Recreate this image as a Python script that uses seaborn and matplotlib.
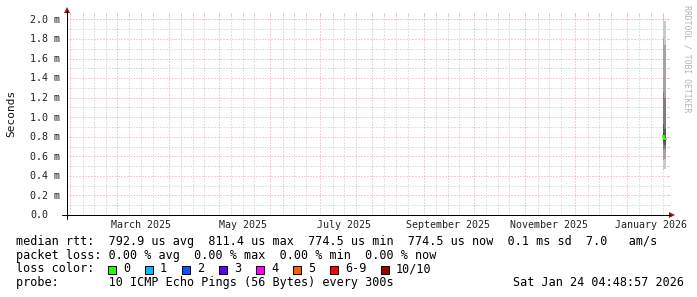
import matplotlib
matplotlib.use("Agg")
import matplotlib.pyplot as plt
import matplotlib.dates as mdates
from matplotlib.ticker import FixedLocator
from matplotlib.transforms import blended_transform_factory, offset_copy
from matplotlib.lines import Line2D
from matplotlib.patches import Polygon, Rectangle
import pandas as pd
import seaborn as sns

# ---------------- data ----------------
sample_times = ["2026-01-23 03:00", "2026-01-24 02:00"]
sample_end = "2026-01-25 02:00"
# sorted ping round-trip times of each sample (ms)
pings_sample1 = [0.46, 0.56, 0.66, 0.74, 0.78, 0.84, 0.93, 1.26, 1.81, 2.045]
pings_sample2 = [0.47, 0.57, 0.67, 0.72, 0.76, 0.80, 0.88, 1.20, 1.74, 1.98]
median_rtt = [0.8114, 0.7745]

y_tick_values = [0.0, 0.2, 0.4, 0.6, 0.8, 1.0, 1.2, 1.4, 1.6, 1.8, 2.0]
y_tick_labels = ["0.0", "0.2 m", "0.4 m", "0.6 m", "0.8 m", "1.0 m",
                 "1.2 m", "1.4 m", "1.6 m", "1.8 m", "2.0 m"]
y_minor_values = [0.1, 0.3, 0.5, 0.7, 0.9, 1.1, 1.3, 1.5, 1.7, 1.9]
month_label_dates = ["2025-03-16", "2025-05-16", "2025-07-16",
                     "2025-09-16", "2025-11-16", "2026-01-16"]
month_labels = ["March 2025", "May 2025", "July 2025",
                "September 2025", "November 2025", "January 2026"]
x_start, x_end = "2025-01-30 15:00", "2026-01-25 15:00"
minor_days = [9, 16, 23]

loss_labels = ["0", "1", "2", "3", "4", "5", "6-9", "10/10"]
loss_colors = ["#26ff00", "#00b8ff", "#0059ff", "#5e00ff",
               "#ff00fe", "#ff5e00", "#ff0000", "#a10000"]

line_rtt = ("median rtt:  792.9 us avg  811.4 us max  774.5 us min  "
            "774.5 us now  0.1 ms sd  7.0   am/s")
line_loss = "packet loss: 0.00 % avg  0.00 % max  0.00 % min  0.00 % now"
line_probe = "probe:       10 ICMP Echo Pings (56 Bytes) every 300s"
stamp = "Sat Jan 24 04:48:57 2026"

# ---------------- style ----------------
sns.set_theme(style="white")
plt.rcParams["font.family"] = ["DejaVu Sans Mono", "DejaVu Sans"]

W, H = 697, 297
fig = plt.figure(figsize=(W / 100, H / 100), dpi=100)
fig.patch.set_facecolor("white")


def fx(x):
    return x / W


def fy(y):
    return 1 - y / H


X0, X1, YB, YT = 67, 667, 215, 15
ax = fig.add_axes([fx(X0), fy(YB), (X1 - X0) / W, (YB - YT) / H])
ax.set_facecolor("white")

GRID = "#c4c4c4"
MGRID = "#eea0a0"
px = 0.72  # one pixel in points

times = pd.to_datetime(sample_times + [sample_end])

# smoke: pairs of pings, outer pairs lighter
half = len(pings_sample1) // 2
for i in range(half):
    lo = [pings_sample1[i], pings_sample2[i]]
    hi = [pings_sample1[-1 - i], pings_sample2[-1 - i]]
    g = int(190 / half * (half - (i + 1))) + 50
    col = "#%02x%02x%02x" % (g, g, g)
    ax.fill_between(times, lo + [lo[-1]], hi + [hi[-1]], step="post",
                    color=col, linewidth=0, zorder=2, antialiased=False)

med_df = pd.DataFrame({"t": times, "median": median_rtt + [median_rtt[-1]]})
sns.lineplot(data=med_df, x="t", y="median", drawstyle="steps-post",
             color=loss_colors[0], linewidth=1.6, ax=ax, legend=False, zorder=3)

ax.set_xlim(pd.Timestamp(x_start), pd.Timestamp(x_end))
ax.set_ylim(0, 2.045)
ax.set_xlabel("")
ax.set_ylabel("")

# grid: month starts (major) and days within each month (minor)
month_starts = pd.date_range(x_start, x_end, freq="MS")
month_all = pd.date_range("2025-01-01", x_end, freq="MS")
lo_t, hi_t = pd.Timestamp(x_start), pd.Timestamp(x_end)
minor_dates = [m + pd.Timedelta(days=d - 1) for m in month_all for d in minor_days]
minor_dates = [d for d in minor_dates if lo_t <= d <= hi_t]
ax.xaxis.set_major_locator(FixedLocator(mdates.date2num(month_starts)))
ax.xaxis.set_minor_locator(FixedLocator(mdates.date2num(minor_dates)))
ax.set_yticks(y_tick_values)
ax.set_yticks(y_minor_values, minor=True)
ax.grid(which="minor", color=GRID, linestyle=(0, (1, 2)), linewidth=px)
ax.grid(which="major", color=MGRID, linestyle=(0, (1, 2)), linewidth=px)
ax.tick_params(which="both", direction="out", length=2 * px, width=px,
               top=True, right=True, labelleft=False, labelbottom=False,
               pad=0)
ax.tick_params(which="major", color=MGRID)
ax.tick_params(which="minor", color=GRID)
for s in ax.spines.values():
    s.set_visible(False)

# axes lines with arrows
fig.add_artist(Line2D([fx(62), fx(670)], [fy(215), fy(215)], color="black", lw=px))
fig.add_artist(Line2D([fx(67), fx(67)], [fy(219), fy(11)], color="black", lw=px))
arrow_col = "#8b1a1a"
fig.add_artist(Polygon([(fx(669), fy(212)), (fx(669), fy(218)), (fx(675), fy(215))],
                       closed=True, color=arrow_col, lw=0))
fig.add_artist(Polygon([(fx(64), fy(13)), (fx(70), fy(13)), (fx(67), fy(7))],
                       closed=True, color=arrow_col, lw=0))

# y tick labels (left aligned)
ytr = offset_copy(blended_transform_factory(fig.transFigure, ax.transData),
                  fig=fig, y=-3.4 * px, units="points")
for v, lab in zip(y_tick_values, y_tick_labels):
    ax.text(fx(30), v, lab, transform=ytr, ha="left", va="baseline",
            fontsize=7.2, color="#222222", clip_on=False)

# x labels
xtr = blended_transform_factory(ax.transData, fig.transFigure)
for d, lab in zip(month_label_dates, month_labels):
    ax.text(mdates.date2num(pd.Timestamp(d)), fy(227.5), lab, transform=xtr,
            ha="center", va="baseline", fontsize=7.2, color="#222222",
            clip_on=False)

fig.text(fx(11), fy(113), "Seconds", rotation=90, ha="center", va="center",
         fontsize=8, color="#111111")
fig.text(fx(687), fy(5), "RRDTOOL / TOBI OETIKER", rotation=270, ha="center",
         va="top", fontsize=5.9, color="#b4b4b4")

LFS = 8.5
fig.text(fx(16), fy(245), line_rtt, ha="left", va="baseline", fontsize=LFS, color="black")
fig.text(fx(16), fy(258.7), line_loss, ha="left", va="baseline", fontsize=LFS, color="black")
fig.text(fx(16), fy(272.5), "loss color:", ha="left", va="baseline", fontsize=LFS, color="black")
fig.text(fx(16), fy(286.3), line_probe, ha="left", va="baseline", fontsize=LFS, color="black")
fig.text(fx(513), fy(286.3), stamp, ha="left", va="baseline", fontsize=LFS, color="black")

box_x = [108, 145, 182, 219, 256, 293, 330, 381]
for bx, lab, c in zip(box_x, loss_labels, loss_colors):
    fig.add_artist(Rectangle((fx(bx), fy(274)), 8 / W, 8 / H, facecolor=c,
                             edgecolor="black", lw=px))
    fig.text(fx(bx + 15), fy(272.5), lab, ha="left", va="baseline",
             fontsize=LFS, color="black")

fig.savefig("out.png", dpi=100, facecolor="white")
